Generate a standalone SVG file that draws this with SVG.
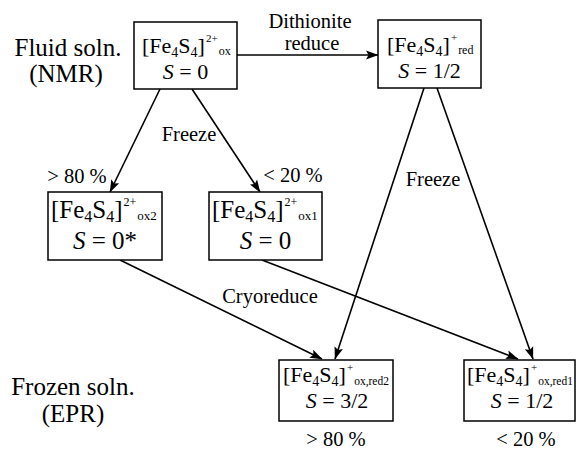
<svg xmlns="http://www.w3.org/2000/svg" width="576" height="458" viewBox="0 0 576 458">
<style>
.t{font-family:"Liberation Serif","Times New Roman",Times,"Noto Serif","DejaVu Serif",serif;fill:#000}
.side{font-size:25px}
.lbl{font-size:20.5px}
.m22{font-size:22px}
.m25{font-size:25px}
.s14{font-size:14px}
.s16{font-size:16px}
.sp{font-size:11px}
.sp12{font-size:12px}
.ix{font-size:12px}
.ix13{font-size:13px}
.ix11{font-size:11.5px}
.it{font-style:italic}
.box{fill:#fff;stroke:#000;stroke-width:1.5}
.conn line{stroke:#000;stroke-width:1.6;marker-end:url(#ah)}
</style>
<defs>
<marker id="ah" markerUnits="userSpaceOnUse" markerWidth="14" markerHeight="10" refX="12" refY="5" orient="auto">
<path d="M0,0.6 L12.5,5 L0,9.4 L2.5,5 z" fill="#000"/>
</marker>
</defs>

<g id="side-labels">
<text class="t side" x="68" y="56" text-anchor="middle">Fluid soln.</text>
<text class="t side" x="66" y="82" text-anchor="middle">(NMR)</text>
<text class="t side" x="73" y="395" text-anchor="middle">Frozen soln.</text>
<text class="t side" x="73" y="422" text-anchor="middle">(EPR)</text>
</g>

<g class="conn" id="connectors">
<line x1="237" y1="55" x2="378" y2="55"/>
<line x1="160" y1="89" x2="110" y2="192"/>
<line x1="192" y1="89" x2="260" y2="192"/>
<line x1="424" y1="88" x2="335" y2="359"/>
<line x1="437" y1="88" x2="533" y2="359"/>
<line x1="120" y1="260" x2="322" y2="359"/>
<line x1="262" y1="260" x2="518" y2="359"/>
</g>

<g id="edge-labels">
<text class="t lbl" x="310" y="28" text-anchor="middle">Dithionite</text>
<text class="t lbl" x="312" y="50" text-anchor="middle">reduce</text>
<text class="t lbl" x="189" y="141" text-anchor="middle">Freeze</text>
<text class="t lbl" x="433" y="186" text-anchor="middle">Freeze</text>
<text class="t lbl" x="77" y="183" text-anchor="middle">&gt; 80 %</text>
<text class="t lbl" x="293" y="182" text-anchor="middle">&lt; 20 %</text>
<text class="t lbl" x="270" y="303" text-anchor="middle">Cryoreduce</text>
<text class="t lbl" x="336" y="446" text-anchor="middle">&gt; 80 %</text>
<text class="t lbl" x="526" y="446" text-anchor="middle">&lt; 20 %</text>
</g>

<g id="node-ox">
<rect class="box" x="134" y="22" width="103" height="67"/>
<text class="t m22" x="142" y="53">[Fe<tspan class="s14" dy="4">4</tspan><tspan dy="-4">S</tspan><tspan class="s14" dy="4">4</tspan><tspan dy="-4">]</tspan><tspan class="sp" dx="1" dy="-11">2+</tspan><tspan class="ix" dx="1" dy="13">ox</tspan></text>
<text class="t m22" x="185.5" y="79" text-anchor="middle"><tspan class="it">S</tspan> = 0</text>
</g>

<g id="node-red">
<rect class="box" x="378" y="20" width="103" height="68"/>
<text class="t m22" x="387" y="52">[Fe<tspan class="s14" dy="4">4</tspan><tspan dy="-4">S</tspan><tspan class="s14" dy="4">4</tspan><tspan dy="-4">]</tspan><tspan class="sp" dx="1" dy="-11">+</tspan><tspan class="ix" dx="1" dy="13">red</tspan></text>
<text class="t m22" x="429.5" y="78" text-anchor="middle"><tspan class="it">S</tspan> = 1/2</text>
</g>

<g id="node-ox2">
<rect class="box" x="48" y="192" width="114" height="68"/>
<text class="t m25" x="51" y="218">[Fe<tspan class="s16" dy="4">4</tspan><tspan dy="-4">S</tspan><tspan class="s16" dy="4">4</tspan><tspan dy="-4">]</tspan><tspan class="sp12" dx="1" dy="-12">2+</tspan><tspan class="ix13" dx="1" dy="14">ox2</tspan></text>
<text class="t m25" x="105" y="249" text-anchor="middle"><tspan class="it">S</tspan> = 0*</text>
</g>

<g id="node-ox1">
<rect class="box" x="209" y="192" width="113" height="68"/>
<text class="t m25" x="212" y="218">[Fe<tspan class="s16" dy="4">4</tspan><tspan dy="-4">S</tspan><tspan class="s16" dy="4">4</tspan><tspan dy="-4">]</tspan><tspan class="sp12" dx="1" dy="-12">2+</tspan><tspan class="ix13" dx="1" dy="14">ox1</tspan></text>
<text class="t m25" x="265.5" y="249" text-anchor="middle"><tspan class="it">S</tspan> = 0</text>
</g>

<g id="node-oxred2">
<rect class="box" x="279" y="360" width="114" height="61"/>
<text class="t m22" x="283" y="382">[Fe<tspan class="s14" dy="4">4</tspan><tspan dy="-4">S</tspan><tspan class="s14" dy="4">4</tspan><tspan dy="-4">]</tspan><tspan class="sp" dx="1" dy="-11">+</tspan><tspan class="ix11" dx="1" dy="14">ox,red2</tspan></text>
<text class="t m22" x="337" y="408" text-anchor="middle"><tspan class="it">S</tspan> = 3/2</text>
</g>

<g id="node-oxred1">
<rect class="box" x="464" y="360" width="111" height="61"/>
<text class="t m22" x="467" y="382">[Fe<tspan class="s14" dy="4">4</tspan><tspan dy="-4">S</tspan><tspan class="s14" dy="4">4</tspan><tspan dy="-4">]</tspan><tspan class="sp" dx="1" dy="-11">+</tspan><tspan class="ix11" dx="1" dy="14">ox,red1</tspan></text>
<text class="t m22" x="522" y="408" text-anchor="middle"><tspan class="it">S</tspan> = 1/2</text>
</g>
</svg>
